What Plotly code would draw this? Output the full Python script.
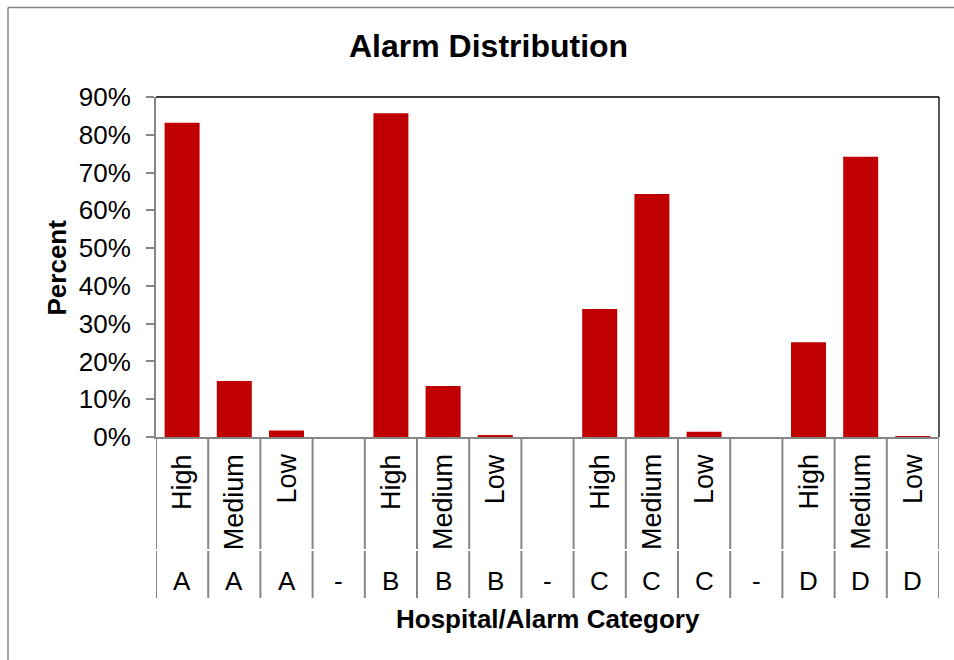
import plotly.graph_objects as go

# ---- data ----
hospitals = ["A", "A", "A", "-", "B", "B", "B", "-", "C", "C", "C", "-", "D", "D", "D"]
levels = ["High", "Medium", "Low", "", "High", "Medium", "Low", "", "High", "Medium", "Low", "", "High", "Medium", "Low"]
percent = [0.832, 0.148, 0.017, None, 0.857, 0.135, 0.005, None, 0.339, 0.643, 0.014, None, 0.251, 0.742, 0.002]
y_ticks = [0.0, 0.1, 0.2, 0.3, 0.4, 0.5, 0.6, 0.7, 0.8, 0.9]

FONT = "Liberation Sans, Arial, sans-serif"
GRAY = "#868686"
W, H = 954, 660
# plot area in page pixels: x 156..939, y 97..437
ML, MT = 156, 97
MR = W - 939
MB = H - 437
PH = H - MT - MB
PW = W - ML - MR


def py(p):  # page pixel y -> paper y
    return (437 - p) / PH


def px(p):  # page pixel x -> paper x
    return (p - 156) / PW


idx = list(range(len(hospitals)))

fig = go.Figure(go.Bar(
    x=idx, y=percent,
    marker=dict(color="#C00000", line=dict(width=0)),
    hoverinfo="skip",
))

shapes = []
# outer chart border (left and top edges visible; right/bottom lie outside the picture)
shapes.append(dict(type="line", xref="paper", yref="paper",
                   x0=px(8), x1=px(8), y0=py(700), y1=py(7.5),
                   line=dict(color=GRAY, width=1.5), layer="below"))
shapes.append(dict(type="line", xref="paper", yref="paper",
                   x0=px(8), x1=px(1000), y0=py(7.5), y1=py(7.5),
                   line=dict(color=GRAY, width=1.5), layer="below"))
# plot-area top and right border
shapes.append(dict(type="line", xref="paper", yref="paper", x0=0, x1=1, y0=1, y1=1,
                   line=dict(color="black", width=1.3)))
shapes.append(dict(type="line", xref="paper", yref="paper", x0=1, x1=1, y0=0, y1=1,
                   line=dict(color="black", width=1.3)))
# category table dividers
for k in range(len(hospitals) + 1):
    xb = k - 0.5
    shapes.append(dict(type="line", xref="x", yref="paper", x0=xb, x1=xb,
                       y0=py(549), y1=0, line=dict(color=GRAY, width=2)))
    shapes.append(dict(type="line", xref="x", yref="paper", x0=xb, x1=xb,
                       y0=py(598), y1=py(551), line=dict(color=GRAY, width=2)))

annotations = []
for i, (h, lv) in enumerate(zip(hospitals, levels)):
    if lv:
        annotations.append(dict(x=i, y=py(452), xref="x", yref="paper", text=lv,
                                textangle=-90, showarrow=False, xanchor="center", yanchor="top",
                                font=dict(family=FONT, size=27, color="black")))
    annotations.append(dict(x=i, y=py(581), xref="x", yref="paper", text=h,
                            showarrow=False, xanchor="center", yanchor="middle",
                            font=dict(family=FONT, size=26, color="black")))

annotations.append(dict(x=px(488), y=py(46), xref="paper", yref="paper",
                        text="Alarm Distribution", showarrow=False,
                        xanchor="center", yanchor="middle",
                        font=dict(family=FONT, size=32, color="black", weight="bold")))
annotations.append(dict(x=px(56), y=py(267.5), xref="paper", yref="paper",
                        text="Percent", showarrow=False, textangle=-90,
                        xanchor="center", yanchor="middle",
                        font=dict(family=FONT, size=26, color="black", weight="bold")))
annotations.append(dict(x=px(547.5), y=py(619), xref="paper", yref="paper",
                        text="Hospital/Alarm Category", showarrow=False,
                        xanchor="center", yanchor="middle",
                        font=dict(family=FONT, size=26, color="black", weight="bold")))

fig.update_layout(
    width=W, height=H,
    margin=dict(l=ML, r=MR, t=MT, b=MB, pad=0),
    paper_bgcolor="white", plot_bgcolor="white",
    bargap=0.33,
    showlegend=False,
    shapes=shapes,
    annotations=annotations,
    font=dict(family=FONT, size=26, color="black"),
    xaxis=dict(range=[-0.5, len(hospitals) - 0.5], showticklabels=False, ticks="",
               showgrid=False, zeroline=False, showline=True, linecolor=GRAY, linewidth=2,
               fixedrange=True),
    yaxis=dict(range=[0, 0.9], tickvals=y_ticks, tickformat=".0%", showgrid=False,
               zeroline=False, showline=True, linecolor=GRAY, linewidth=2,
               ticks="outside", ticklen=8, tickwidth=1.5, tickcolor=GRAY,
               ticklabelstandoff=10,
               tickfont=dict(family=FONT, size=26, color="black"), fixedrange=True),
)

fig.write_html(
    "out.html",
    config={"displayModeBar": False},
    post_script="document.body.style.margin='0';document.body.style.overflow='hidden';"
                "document.documentElement.style.overflow='hidden';",
)
